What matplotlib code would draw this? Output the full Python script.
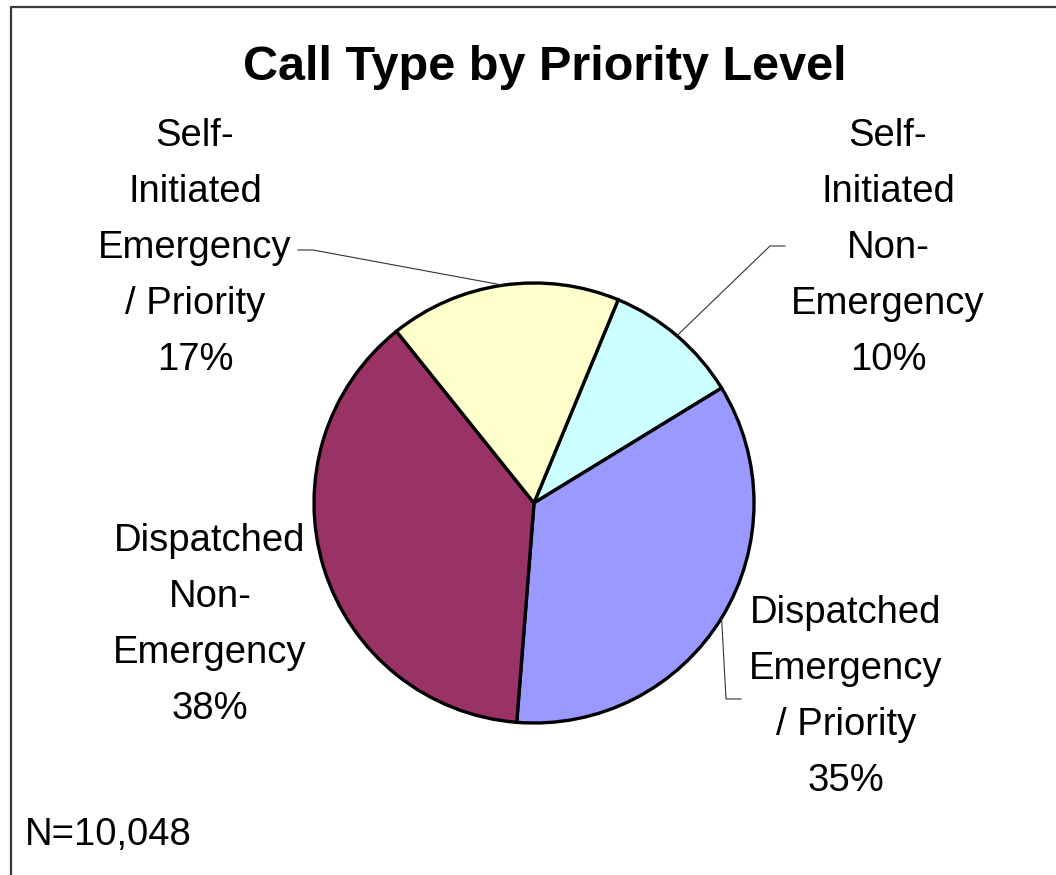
import numpy as np
import matplotlib
matplotlib.use('Agg')
import matplotlib.pyplot as plt
from matplotlib.lines import Line2D

plt.rcParams['font.family'] = ['Liberation Sans', 'DejaVu Sans']

# Call type shares (percent), clockwise from the first slice
categories = ['Self-\nInitiated\nNon-\nEmergency',
              'Dispatched\nEmergency\n/ Priority',
              'Dispatched\nNon-\nEmergency',
              'Self-\nInitiated\nEmergency\n/ Priority']
shares = [10, 35, 38, 17]
colors = ['#CCFFFF', '#9999FF', '#993366', '#FFFFCC']
n_calls = '10,048'

W, H = 1056, 875
fig = plt.figure(figsize=(W / 100, H / 100), dpi=100)
ax = fig.add_axes([0, 0, 1, 1])

cx, cy, r = 534, H - 503, 220
wedges, _ = ax.pie(shares, colors=colors, startangle=67.5, counterclock=False,
                   center=(cx, cy), radius=r,
                   wedgeprops=dict(edgecolor='black', linewidth=2.4))
ax.set_xlim(0, W)
ax.set_ylim(0, H)
ax.set_aspect('equal')
ax.axis('off')

# frame along the left and top edges
ax.add_line(Line2D([11, 11, W], [0, H - 7, H - 7], color='#3a3a3a', lw=1.6))

ax.text(545, H - 67, 'Call Type by Priority Level', ha='center', va='center',
        fontsize=35, fontweight='bold')


def edge_point(w):
    a = np.deg2rad((w.theta1 + w.theta2) / 2)
    return cx + r * np.cos(a), cy + r * np.sin(a)


# label anchors and leader-line routes
label_pos = [(888, H - 248), (846, H - 697), (210, H - 625), (195, H - 248)]
for i, (cat, pct) in enumerate(zip(categories, shares)):
    lx, ly = label_pos[i]
    ax.text(lx, ly, f'{cat}\n{pct}%', ha='center', va='center',
            fontsize=27.5, linespacing=1.72)

ex, ey = edge_point(wedges[0])
ax.add_line(Line2D([ex, 770, 785], [ey, H - 246, H - 246], color='#333333', lw=0.8))
ex, ey = edge_point(wedges[1])
ax.add_line(Line2D([ex, 726, 741], [ey, H - 699, H - 699], color='#333333', lw=0.8))
ex, ey = edge_point(wedges[3])
ax.add_line(Line2D([ex, 313, 298], [ey, H - 250, H - 250], color='#333333', lw=0.8))

ax.text(25, H - 835, f'N={n_calls}', ha='left', va='center', fontsize=27.5)

fig.savefig('out.png', dpi=100)
